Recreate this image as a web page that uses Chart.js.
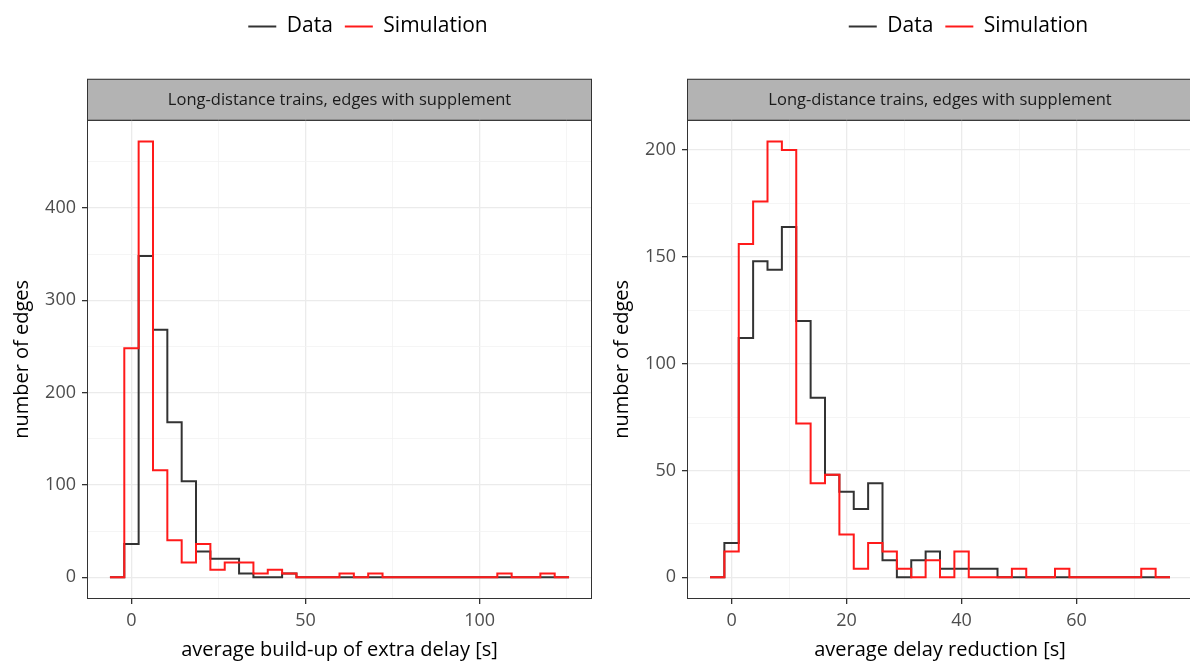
<!DOCTYPE html>
<html>
<head>
<meta charset="utf-8">
<script src="https://cdn.jsdelivr.net/npm/chart.js@4"></script>
<style>
    html, body { margin: 0; padding: 0; background: #fff; width: 1190px; height: 662px; overflow: hidden; }
    .panel { position: absolute; top: 0; width: 600px; height: 662px; }
    #left-panel { left: 0; }
    #right-panel { left: 600px; }
</style>
</head>
<body>
<div class="panel" id="left-panel"><canvas id="buildup-chart"></canvas></div>
<div class="panel" id="right-panel"><canvas id="reduction-chart"></canvas></div>
<script>
// histogram bins are centred on k * binWidth, k = -1 .. 30
var buildupBinWidth = 4.12;
var buildupData = [0, 36, 348, 268, 168, 104, 28, 20, 20, 4, 0, 0, 4,
    0, 0, 0, 0, 0, 0, 0, 0, 0, 0, 0, 0, 0, 0, 0, 0, 0, 0, 0];
var buildupSimulation = [0, 248, 472, 116, 40, 16, 36, 8, 16, 16, 4, 8, 4,
    0, 0, 0, 4, 0, 4, 0, 0, 0, 0, 0, 0, 0, 0, 4, 0, 0, 4, 0];

var reductionBinWidth = 2.5;
var reductionData = [0, 16, 112, 148, 144, 164, 120, 84, 48, 40, 32, 44, 8,
    0, 8, 12, 4, 4, 4, 4, 0, 0, 0, 0, 0, 0, 0, 0, 0, 0, 0, 0];
var reductionSimulation = [0, 12, 156, 176, 204, 200, 72, 44, 48, 20, 4, 16, 12,
    4, 0, 8, 0, 12, 0, 0, 0, 4, 0, 0, 4, 0, 0, 0, 0, 0, 4, 0];

var seriesNames = ["Data", "Simulation"];
var seriesColors = ["#333333", "#ff1a1a"];
var stripText = "Long-distance trains, edges with supplement";

var FONT = "'Open Sans', 'Noto Sans', sans-serif";

// left edge of every bin with its count, plus the closing edge
function stepPoints(counts, width) {
    var pts = counts.map(function (c, i) {
        return { x: (i - 1.5) * width, y: c };
    });
    pts.push({ x: (counts.length - 1.5) * width, y: counts[counts.length - 1] });
    return pts;
}

function isMajor(value, every) {
    return Math.abs(value / every - Math.round(value / every)) < 1e-6;
}

// ticks on every multiple of step inside the axis range
function gridTicks(step) {
    return function (scale) {
        var ticks = [];
        for (var v = Math.ceil(scale.min / step) * step; v <= scale.max; v += step) {
            ticks.push({ value: v });
        }
        scale.ticks = ticks;
    };
}

var panelFrame = {
    id: "panelFrame",
    afterLayout: function (chart) {
        var dx = chart.options.plugins.panelFrame.legendShift;
        chart.legend.left += dx;
        chart.legend.right += dx;
    },
    beforeDraw: function (chart) {
        var a = chart.chartArea, ctx = chart.ctx;
        ctx.save();
        ctx.fillStyle = "#b3b3b3";
        ctx.fillRect(a.left, a.top - 41, a.right - a.left, 41);
        ctx.strokeStyle = "#333333";
        ctx.lineWidth = 1;
        ctx.strokeRect(a.left + 0.5, a.top - 40.5, a.right - a.left - 1, 41);
        ctx.restore();
    },
    afterDraw: function (chart) {
        var a = chart.chartArea, ctx = chart.ctx;
        ctx.save();
        ctx.strokeStyle = "#333333";
        ctx.lineWidth = 1;
        ctx.strokeRect(a.left + 0.5, a.top + 0.5, a.right - a.left - 1, a.bottom - a.top - 1);
        ctx.restore();
    },
};

function makeChart(canvasId, dataCounts, simCounts, binWidth, cfg) {
    var datasets = [dataCounts, simCounts].map(function (counts, i) {
        return {
            label: seriesNames[i],
            data: stepPoints(counts, binWidth),
            borderColor: seriesColors[i],
            backgroundColor: seriesColors[i],
            borderWidth: 2,
            pointRadius: 0,
            fill: false,
            stepped: true,
            order: i === 1 ? 0 : 1,
        };
    });

    return new Chart(document.getElementById(canvasId), {
        type: "line",
        data: { datasets: datasets },
        plugins: [panelFrame],
        options: {
            responsive: true,
            maintainAspectRatio: false,
            animation: false,
            events: [],
            layout: { padding: { top: 4, left: 0, right: cfg.padRight, bottom: 0 } },
            plugins: {
                panelFrame: { legendShift: 72 },
                tooltip: { enabled: false },
                legend: {
                    position: "top",
                    labels: {
                        usePointStyle: true,
                        pointStyle: "line",
                        pointStyleWidth: 28,
                        padding: 12,
                        color: "#000",
                        font: { size: 21, family: FONT },
                        sort: function (a, b) { return a.datasetIndex - b.datasetIndex; },
                    },
                },
                title: {
                    display: true,
                    text: stripText,
                    fullSize: false,
                    weight: 500,
                    color: "#1a1a1a",
                    font: { size: 16.5, weight: "normal", family: FONT },
                    padding: { top: 43, bottom: 10 },
                },
            },
            scales: {
                x: {
                    type: "linear",
                    min: cfg.xMin,
                    max: cfg.xMax,
                    afterBuildTicks: gridTicks(cfg.xStep),
                    afterFit: function (scale) { scale.height = 63; },
                    border: { display: false },
                    grid: {
                        color: function (c) { return isMajor(c.tick.value, cfg.xLabelEvery) ? "#ebebeb" : "#f3f3f3"; },
                        lineWidth: function (c) { return isMajor(c.tick.value, cfg.xLabelEvery) ? 1.3 : 0.8; },
                        tickColor: function (c) { return isMajor(c.tick.value, cfg.xLabelEvery) ? "#333333" : "rgba(0,0,0,0)"; },
                        tickLength: 5,
                    },
                    ticks: {
                        autoSkip: false,
                        maxRotation: 0,
                        padding: 6,
                        color: "#4d4d4d",
                        font: { size: 18, family: FONT },
                        callback: function (v) {
                            return isMajor(v, cfg.xLabelEvery) && v <= cfg.xLabelMax ? String(v) : "";
                        },
                    },
                    title: {
                        display: true,
                        text: cfg.xTitle,
                        color: "#000",
                        font: { size: 20, family: FONT },
                        padding: { top: 0, bottom: 0 },
                    },
                },
                y: {
                    min: cfg.yMin,
                    max: cfg.yMax,
                    afterBuildTicks: gridTicks(cfg.yStep),
                    afterFit: function (scale) { scale.width = 87; },
                    border: { display: false },
                    grid: {
                        color: function (c) { return isMajor(c.tick.value, cfg.yLabelEvery) ? "#ebebeb" : "#f3f3f3"; },
                        lineWidth: function (c) { return isMajor(c.tick.value, cfg.yLabelEvery) ? 1.3 : 0.8; },
                        tickColor: function (c) { return isMajor(c.tick.value, cfg.yLabelEvery) ? "#333333" : "rgba(0,0,0,0)"; },
                        tickLength: 5,
                    },
                    ticks: {
                        autoSkip: false,
                        padding: 6,
                        color: "#4d4d4d",
                        font: { size: 18, family: FONT },
                        callback: function (v) { return isMajor(v, cfg.yLabelEvery) ? String(v) : ""; },
                    },
                    title: {
                        display: true,
                        text: "number of edges",
                        color: "#000",
                        font: { size: 20, family: FONT },
                        padding: { top: 10, bottom: 0 },
                    },
                },
            },
        },
    });
}

var buildupChart = makeChart("buildup-chart", buildupData, buildupSimulation, buildupBinWidth, {
    padRight: 8,
    xMin: -12.77, xMax: 132.25, xStep: 25, xLabelEvery: 50, xLabelMax: 100,
    yMin: -23.6, yMax: 495.6, yStep: 50, yLabelEvery: 100,
    xTitle: "average build-up of extra delay [s]",
});

var reductionChart = makeChart("reduction-chart", reductionData, reductionSimulation, reductionBinWidth, {
    padRight: 7,
    xMin: -7.75, xMax: 80.25, xStep: 10, xLabelEvery: 20, xLabelMax: 60,
    yMin: -10.2, yMax: 214.2, yStep: 25, yLabelEvery: 50,
    xTitle: "average delay reduction [s]",
});
</script>
</body>
</html>
